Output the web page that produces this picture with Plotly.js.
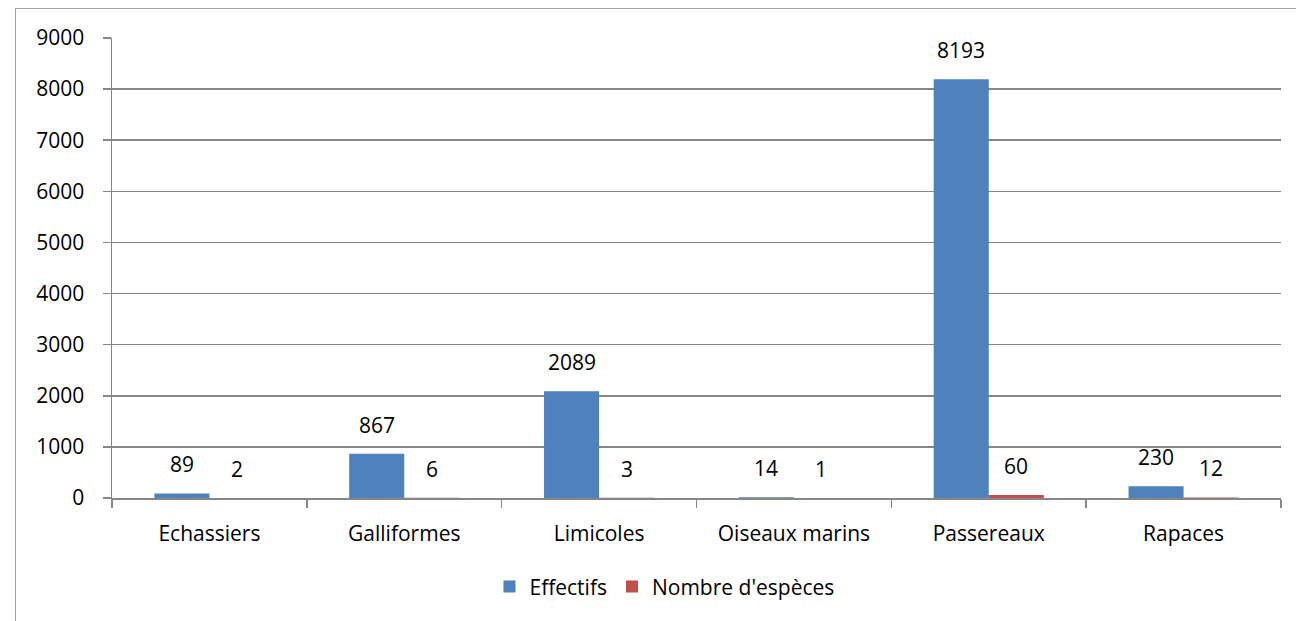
<!DOCTYPE html>
<html>
<head>
<meta charset="utf-8">
<script src="https://cdn.plot.ly/plotly-3.0.1.min.js"></script>
<style>
html,body{margin:0;padding:0;background:#fff;}
#wrap{position:relative;width:1296px;height:621px;overflow:hidden;}
#frame{position:absolute;left:15px;top:8px;width:1400px;height:700px;border:1px solid #a0a0a0;box-sizing:border-box;}
#chart{position:absolute;left:0;top:0;width:1296px;height:621px;}
</style>
</head>
<body>
<div id="wrap"><div id="frame"></div><div id="chart"></div></div>
<script>
const categories = ["Echassiers", "Galliformes", "Limicoles", "Oiseaux marins", "Passereaux", "Rapaces"];
const effectifs = [89, 867, 2089, 14, 8193, 230];
const nbEspeces = [2, 6, 3, 1, 60, 12];
const seriesNames = ["Effectifs", "Nombre d'espèces"];
const colors = ["#4f81bd", "#c0504d"];

const FONT = "Open Sans, Noto Sans, sans-serif";
const FS = 21;

const traces = [
  {type: "bar", name: seriesNames[0], x: categories, y: effectifs, marker: {color: colors[0]}, hoverinfo: "none"},
  {type: "bar", name: seriesNames[1], x: categories, y: nbEspeces, marker: {color: colors[1]}, hoverinfo: "none"}
];

const annotations = [];
[effectifs, nbEspeces].forEach((vals, s) => {
  vals.forEach((v, i) => {
    annotations.push({
      x: categories[i], y: v, xref: "x", yref: "y",
      text: String(v), showarrow: false,
      xshift: s === 0 ? -27.5 : 27.5, yanchor: "bottom", yshift: 13,
      font: {family: FONT, size: FS, color: "#000"}
    });
  });
});

const layout = {
  width: 1296, height: 621,
  margin: {l: 112, r: 15, t: 38, b: 123},
  paper_bgcolor: "rgba(0,0,0,0)", plot_bgcolor: "rgba(0,0,0,0)",
  barmode: "group", bargap: 0.435, bargroupgap: 0,
  font: {family: FONT, size: FS, color: "#000"},
  xaxis: {
    type: "category", showgrid: false, showline: true, linecolor: "#868686", linewidth: 1.5,
    ticks: "outside", tickson: "boundaries", ticklen: 8, tickcolor: "#868686", tickwidth: 1.5,
    ticklabelstandoff: 16,
    tickfont: {family: FONT, size: FS, color: "#000"}
  },
  yaxis: {
    range: [0, 9000], dtick: 1000, tick0: 0, showgrid: true, gridcolor: "#868686", gridwidth: 1.5,
    showline: true, linecolor: "#868686", linewidth: 1.5,
    ticks: "outside", ticklen: 8, tickcolor: "#868686", tickwidth: 1.5,
    ticklabelstandoff: 14, zeroline: false,
    tickfont: {family: FONT, size: FS, color: "#000"}
  },
  legend: {
    orientation: "h", x: 0.4726, xanchor: "center", y: -0.193, yanchor: "middle",
    font: {family: FONT, size: FS, color: "#000"}, itemwidth: 30, traceorder: "normal"
  },
  annotations: annotations,
  showlegend: true
};

Plotly.newPlot("chart", traces, layout, {displayModeBar: false, staticPlot: true});
</script>
</body>
</html>
